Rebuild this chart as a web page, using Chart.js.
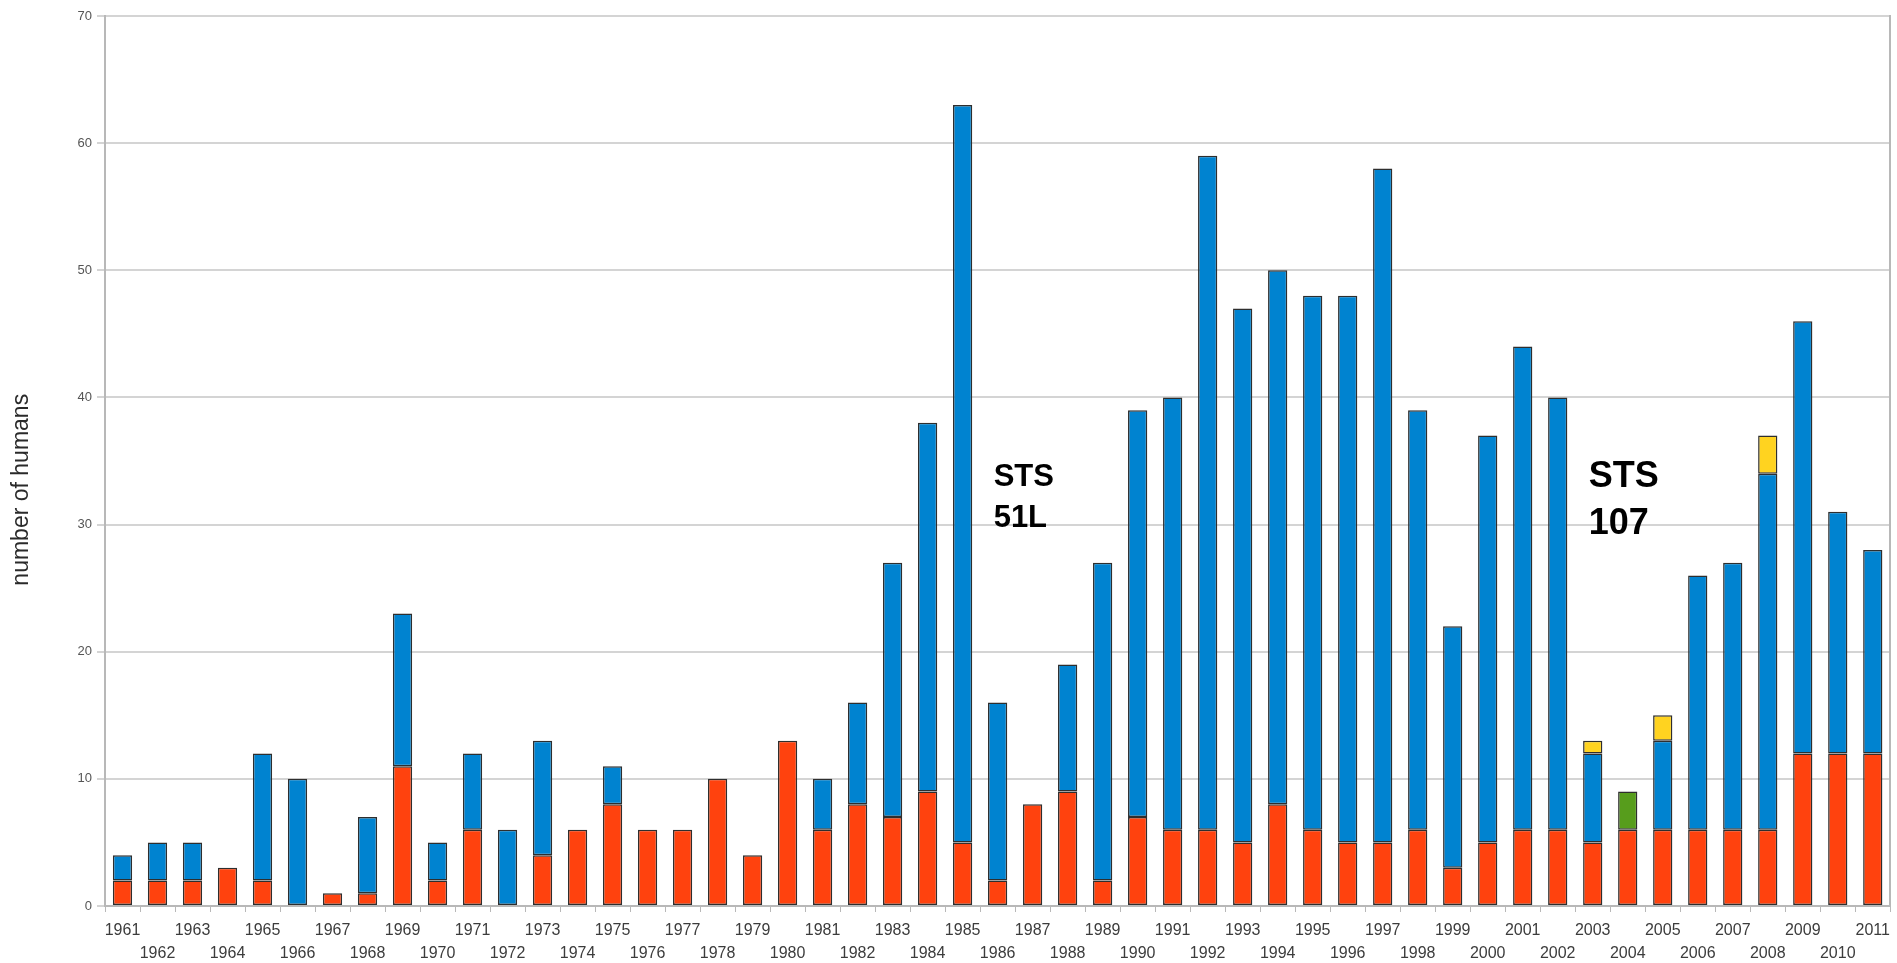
<!DOCTYPE html>
<html>
<head>
<meta charset="utf-8">
<script src="https://cdn.jsdelivr.net/npm/chart.js@4/dist/chart.umd.min.js"></script>
<style>
  html, body { margin: 0; padding: 0; background: #fff; }
  #wrap { position: relative; width: 1897px; height: 963px; }
</style>
</head>
<body>
<div id="wrap"><canvas id="humansChart"></canvas></div>
<script>
// years on the x axis
const years = [
    1961, 1962, 1963, 1964, 1965, 1966, 1967, 1968, 1969, 1970,
    1971, 1972, 1973, 1974, 1975, 1976, 1977, 1978, 1979, 1980,
    1981, 1982, 1983, 1984, 1985, 1986, 1987, 1988, 1989, 1990,
    1991, 1992, 1993, 1994, 1995, 1996, 1997, 1998, 1999, 2000,
    2001, 2002, 2003, 2004, 2005, 2006, 2007, 2008, 2009, 2010, 2011
];

// stacked segments, bottom to top
const redValues = [
    2, 2, 2, 3, 2, 0, 1, 1, 11, 2,
    6, 0, 4, 6, 8, 6, 6, 10, 4, 13,
    6, 8, 7, 9, 5, 2, 8, 9, 2, 7,
    6, 6, 5, 8, 6, 5, 5, 6, 3, 5,
    6, 6, 5, 6, 6, 6, 6, 6, 12, 12, 12
];
const blueValues = [
    2, 3, 3, 0, 10, 10, 0, 6, 12, 3,
    6, 6, 9, 0, 3, 0, 0, 0, 0, 0,
    4, 8, 20, 29, 58, 14, 0, 10, 25, 32,
    34, 53, 42, 42, 42, 43, 53, 33, 19, 32,
    38, 34, 7, 0, 7, 20, 21, 28, 34, 19, 16
];
const greenValues = [
    0, 0, 0, 0, 0, 0, 0, 0, 0, 0,
    0, 0, 0, 0, 0, 0, 0, 0, 0, 0,
    0, 0, 0, 0, 0, 0, 0, 0, 0, 0,
    0, 0, 0, 0, 0, 0, 0, 0, 0, 0,
    0, 0, 0, 3, 0, 0, 0, 0, 0, 0, 0
];
const yellowValues = [
    0, 0, 0, 0, 0, 0, 0, 0, 0, 0,
    0, 0, 0, 0, 0, 0, 0, 0, 0, 0,
    0, 0, 0, 0, 0, 0, 0, 0, 0, 0,
    0, 0, 0, 0, 0, 0, 0, 0, 0, 0,
    0, 0, 1, 0, 2, 0, 0, 3, 0, 0, 0
];

const yTicks = [0, 10, 20, 30, 40, 50, 60, 70];

// text notes placed on the chart
const notes = [
    { lines: ['STS', '51L'], year: 1986, value: 34.6, size: 31 },
    { lines: ['STS', '107'], year: 2003, value: 34.8, size: 36 }
];

// odd years on the first row, even years on the second
const tickLabels = years.map((y, i) => i % 2 === 0 ? String(y) : ['', String(y)]);

const segColors = ['#ff420e', '#0083d0', '#579d1c', '#ffd320'];
const segNames = ['red', 'blue', 'green', 'yellow'];
const segData = [redValues, blueValues, greenValues, yellowValues];

const datasets = segData.map((arr, k) => ({
    label: segNames[k],
    data: arr.map(v => v === 0 ? null : v),
    backgroundColor: segColors[k],
    borderColor: '#2e2e2e',
    borderWidth: 1.5,
    borderSkipped: false,
    barPercentage: 0.55,
    categoryPercentage: 1.0
}));

const notesPlugin = {
    id: 'notes',
    afterDatasetsDraw(chart) {
        const ctx = chart.ctx;
        const xs = chart.scales.x;
        const ys = chart.scales.y;
        ctx.save();
        ctx.fillStyle = '#000';
        ctx.textAlign = 'left';
        ctx.textBaseline = 'top';
        notes.forEach(n => {
            ctx.font = 'bold ' + n.size + 'px "Liberation Sans", Arial, sans-serif';
            const x = xs.getPixelForValue(years.indexOf(n.year)) - 4;
            let y = ys.getPixelForValue(n.value) - n.size * 0.12;
            n.lines.forEach(t => {
                ctx.fillText(t, x, y);
                y += n.size * 1.3;
            });
        });
        ctx.restore();
    }
};

const canvas = document.getElementById('humansChart');
const chart = new Chart(canvas, {
    type: 'bar',
    data: { labels: tickLabels, datasets: datasets },
    options: {
        responsive: true,
        maintainAspectRatio: false,
        animation: false,
        devicePixelRatio: 1,
        layout: { padding: { top: 16, right: 0, left: 0, bottom: 0 } },
        plugins: {
            legend: { display: false },
            tooltip: { enabled: false }
        },
        scales: {
            x: {
                stacked: true,
                grid: {
                    display: true,
                    drawOnChartArea: false,
                    color: '#b8b8b8',
                    tickLength: 6,
                    offset: true
                },
                border: { color: '#b8b8b8', width: 2 },
                ticks: {
                    autoSkip: false,
                    maxRotation: 0,
                    minRotation: 0,
                    padding: 7,
                    color: '#3c3c3c',
                    font: { family: '"Liberation Sans Narrow", "Liberation Sans", Arial, sans-serif', size: 16, lineHeight: 1.45 }
                },
                afterFit(scale) { scale.height = 57; }
            },
            y: {
                stacked: true,
                min: 0,
                max: 70,
                afterBuildTicks(scale) { scale.ticks = yTicks.map(v => ({ value: v })); },
                grid: {
                    color: '#d4d4d4',
                    lineWidth: 2,
                    tickLength: 8
                },
                border: { color: '#b8b8b8', width: 2 },
                ticks: {
                    padding: 5,
                    color: '#555',
                    font: { family: '"Liberation Sans Narrow", "Liberation Sans", Arial, sans-serif', size: 13 }
                },
                title: {
                    display: true,
                    // trailing spaces push the visible words a little lower
                    text: 'number of humans         ',
                    color: '#2a2a2a',
                    padding: { top: 8, bottom: 0 },
                    font: { family: '"Liberation Sans", Arial, sans-serif', size: 23 }
                },
                afterFit(scale) { scale.width = 105; }
            },
            yRight: {
                position: 'right',
                min: 0,
                max: 70,
                grid: { display: false },
                border: { display: true, color: '#b8b8b8', width: 2 },
                ticks: { display: false },
                afterFit(scale) { scale.width = 3; }
            }
        }
    },
    plugins: [notesPlugin]
});
</script>
</body>
</html>
